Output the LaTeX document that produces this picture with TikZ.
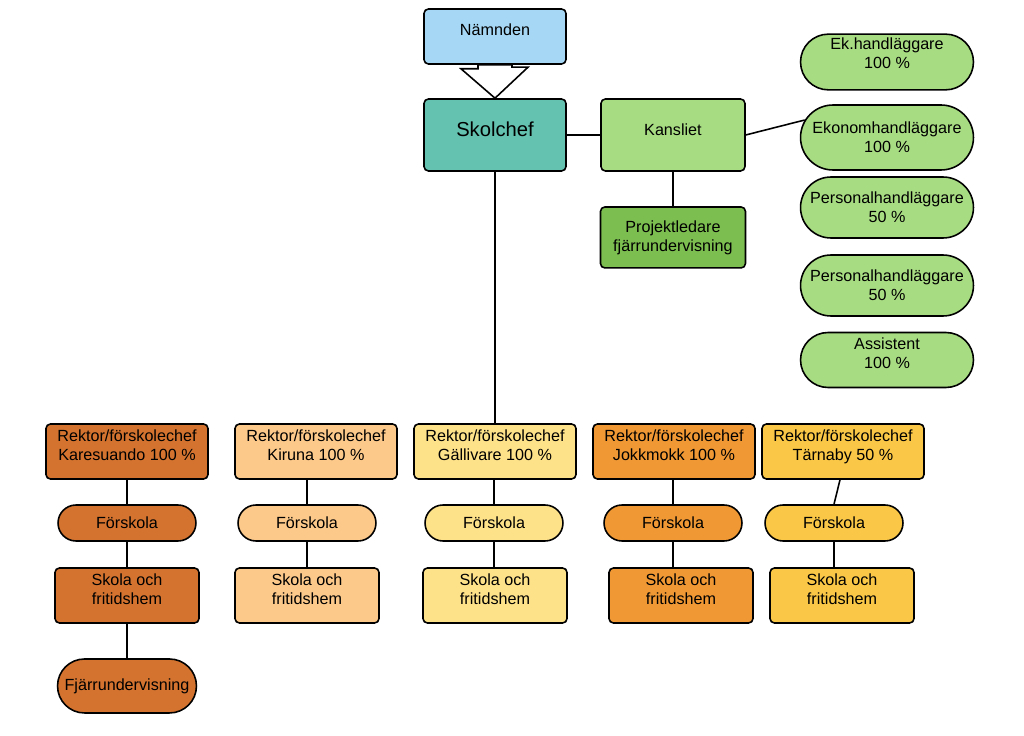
\documentclass[tikz,border=0pt]{standalone}
\usepackage{fontspec}
\setmainfont{Liberation Sans}
\usetikzlibrary{calc,positioning,shapes.misc}
\definecolor{namnd}{HTML}{A6D8F5}
\definecolor{skolc}{HTML}{63C2B0}
\definecolor{kansl}{HTML}{A8DC82}
\definecolor{projl}{HTML}{7DBE50}
\definecolor{kare}{HTML}{D4732F}
\definecolor{kiru}{HTML}{FDC98A}
\definecolor{gall}{HTML}{FEE28A}
\definecolor{jokk}{HTML}{F09834}
\definecolor{tarn}{HTML}{FAC846}
\tikzset{
    block/.style = {draw, rounded corners=2.5pt, line width=0.9pt,
        minimum height=1.1cm,
        minimum width=2.84cm, align=center, inner sep=2pt},
    pill/.style = {draw, rounded rectangle, line width=0.9pt,
        minimum height=0.72cm,
        minimum width=2.9cm, align=center, inner sep=2pt},
    link/.style = {draw, line width=0.9pt},
    hollow/.style = {draw, fill=white, line width=0.9pt, line join=miter}
}
% extra depth under the last line, lifts the text a little
\newcommand{\sink}[1]{\rule[-#1]{0pt}{0pt}}

\begin{document}
\begin{tikzpicture}[x=0.02cm, y=-0.02cm, node distance=2cm, every node/.style={font=\fontsize{9.2}{10.8}\selectfont}]
        \useasboundingbox (0,0) rectangle (1024,736);
        % top of the chart
        \node [block, fill=namnd, name=namnden] at (495,36.5) {Nämnden\sink{0.26cm}};
        \node [block, fill=skolc, minimum height=1.44cm, below of=namnden, node distance=1.97cm, font=\fontsize{11.5}{13}\selectfont, name=skolchef] {Skolchef\sink{0.24cm}};
        \node [block, fill=kansl, minimum height=1.44cm, minimum width=2.88cm, right of=skolchef, node distance=3.56cm, name=kansliet] {Kansliet\sink{0.2cm}};
        \node [block, fill=projl, minimum height=1.22cm, minimum width=2.9cm, below of=kansliet, node distance=2.05cm, name=projekt] {Projektledare\\fjärrundervisning};
        \draw [hollow] ($(namnden.south)+(-17,0)$) -- ++(0,4) -- ++(-17,0) -- (skolchef.north) -- ++(33,-31) -- ++(-16,0) -- ($(namnden.south)+(17,0)$) -- cycle;
        \draw [link] (skolchef) -- (kansliet);
        \draw [link] (kansliet) -- (projekt);
        % staff of the office
        \foreach \i/\y/\h/\d/\txt in {1/62/0.98/0.36cm/{Ek.handläggare\\100 \%},
                                      2/137.5/1.3/0cm/{Ekonomhandläggare\\100 \%},
                                      3/207.5/1.22/0cm/{Personalhandläggare\\50 \%},
                                      4/285.5/1.22/0cm/{Personalhandläggare\\50 \%},
                                      5/360/1.1/0.28cm/{Assistent\\100 \%}}{
            \node [pill, fill=kansl, minimum width=3.6cm, minimum height=\h cm, name=staff\i] at (887,\y) {\txt\sink{\d}};
        }
        \draw [link] (kansliet.east) -- (staff2.168);
        % schools
        \foreach \i/\rx/\fx/\sx/\col/\place in {1/127/127/127/kare/Karesuando 100,
                                               2/316/307/307/kiru/Kiruna 100,
                                               3/495/494/495/gall/Gällivare 100,
                                               4/674/673/681/jokk/Jokkmokk 100,
                                               5/843/834/842/tarn/Tärnaby 50}{
            \node [block, fill=\col, minimum width=3.24cm, name=rektor\i] at (\rx,451.5) {Rektor/förskolechef\\\place~\%\sink{0.27cm}};
            \node [pill, fill=\col, name=forskola\i] at (\fx,523) {Förskola};
            \node [block, fill=\col, minimum width=2.88cm, name=skola\i] at (\sx,595.5) {Skola och\\fritidshem\sink{0.24cm}};
            \draw [link] (forskola\i.south) -- (forskola\i.south |- skola\i.north);
        }
        \foreach \i in {1,...,4}{
            \draw [link] (forskola\i.north |- rektor\i.south) -- (forskola\i.north);
        }
        \draw [link] ($(rektor5.south)+(-3,0)$) -- (forskola5.north);
        \draw [link] (skolchef) -- (rektor3);
        \node [pill, fill=kare, minimum width=2.92cm, minimum height=1.08cm, below of=skola1, node distance=1.81cm, name=fjarr] {Fjärrundervisning};
        \draw [link] (skola1) -- (fjarr);
\end{tikzpicture}
\end{document}
